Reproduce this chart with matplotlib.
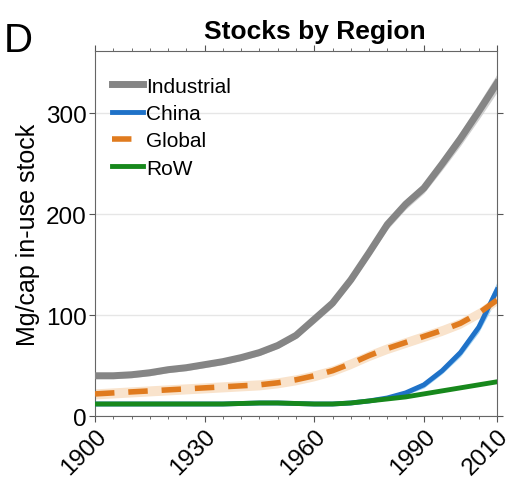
import matplotlib

matplotlib.use("Agg")
import matplotlib.pyplot as plt
from matplotlib.ticker import MultipleLocator

plt.rcParams["font.family"] = ["Liberation Sans", "DejaVu Sans"]

YEARS = [1900, 1905, 1910, 1915, 1920, 1925, 1930, 1935, 1940, 1945, 1950, 1955,
         1960, 1965, 1970, 1975, 1980, 1985, 1990, 1995, 2000, 2005, 2010]

INDUSTRIAL = [40, 40, 41, 43, 46, 48, 51, 54, 58, 63, 70, 80,
              96, 112, 135, 162, 190, 210, 226, 250, 275, 302, 330]
CHINA = [12, 12, 12, 12, 12, 12, 12, 12, 12.5, 13, 13, 12.5,
         12, 12, 13, 15, 18, 23, 31, 45, 63, 88, 125]
GLOBAL = [22, 23, 24, 25, 26, 27, 28, 29, 30, 31, 33, 36,
          40, 45, 52, 60, 67, 73, 79, 85, 92, 102, 115]
ROW = [12, 12, 12, 12, 12, 12, 12, 12, 12.5, 13, 13, 12.5,
       12, 12, 13, 15, 17, 19, 22, 25, 28, 31, 34]

# half-widths of the uncertainty bands
INDUSTRIAL_ERR = [3, 3, 3, 3, 3, 3, 3, 3, 3, 3, 3, 3,
                  4, 4, 4, 4, 5, 5, 5, 6, 7, 8, 9]
CHINA_ERR = [1, 1, 1, 1, 1, 1, 1, 1, 1, 1, 1, 1,
             1, 1, 1, 1, 2, 2, 3, 3, 4, 5, 8]
GLOBAL_ERR = [5, 5, 5, 5, 5, 5, 5, 5, 5, 5, 5, 5,
              5, 5, 5, 5, 5, 5, 5, 5, 5, 5, 5]

SERIES = [
    ("Industrial", INDUSTRIAL, INDUSTRIAL_ERR, "#858585", "#d0d0d0", "-", 5),
    ("China", CHINA, CHINA_ERR, "#1f72c8", "#9fd0f2", "-", 3.5),
    ("Global", GLOBAL, GLOBAL_ERR, "#e07b1f", "#f9e3cc", "--", 4),
    ("RoW", ROW, None, "#17881c", None, "-", 3.5),
]


def main():
    fig = plt.figure(figsize=(5.15, 4.85), dpi=100)
    ax = fig.add_axes([0.1845, 0.140, 0.7805, 0.753])

    for label, vals, err, color, band, ls, lw in SERIES:
        if err is not None:
            lo = [v - e for v, e in zip(vals, err)]
            hi = [v + e for v, e in zip(vals, err)]
            ax.fill_between(YEARS, lo, hi, color=band, linewidth=0, zorder=1)
        line, = ax.plot(YEARS, vals, color=color, linestyle=ls, linewidth=lw,
                        label=label, zorder=3)
        if ls == "--":
            line.set_dashes((3.5, 2.5))

    ax.set_xlim(1900, 2010)
    ax.set_ylim(0, 362)
    ax.set_xticks([1900, 1930, 1960, 1990, 2010])
    ax.xaxis.set_minor_locator(MultipleLocator(5))
    ax.set_yticks([0, 100, 200, 300])
    ax.grid(True, axis="y", color="#e6e6e6", linewidth=1)
    ax.set_axisbelow(True)
    ax.tick_params(which="both", direction="out", top=True, right=True,
                   labelsize=17.5, color="#555555", pad=2)
    ax.tick_params(which="major", length=4)
    ax.tick_params(which="minor", length=2.5)
    for lab in ax.get_xticklabels():
        lab.set_rotation(45)
        lab.set_ha("right")
        lab.set_va("top")
        lab.set_rotation_mode("anchor")
    for sp in ax.spines.values():
        sp.set_color("#666666")

    ax.set_ylabel("Mg/cap in-use stock", fontsize=18, labelpad=4)
    ax.set_title("Stocks by Region", fontsize=19, fontweight="bold",
                 x=0.547, pad=9)
    fig.text(0.008, 0.915, "D", fontsize=29, va="center", ha="left")

    ax.legend(loc="upper left", frameon=False, fontsize=15,
              handlelength=1.45, handletextpad=0.15, labelspacing=0.4,
              borderaxespad=0.4, bbox_to_anchor=(0.002, 0.975))

    fig.savefig("out.png", dpi=100)


if __name__ == "__main__":
    main()
